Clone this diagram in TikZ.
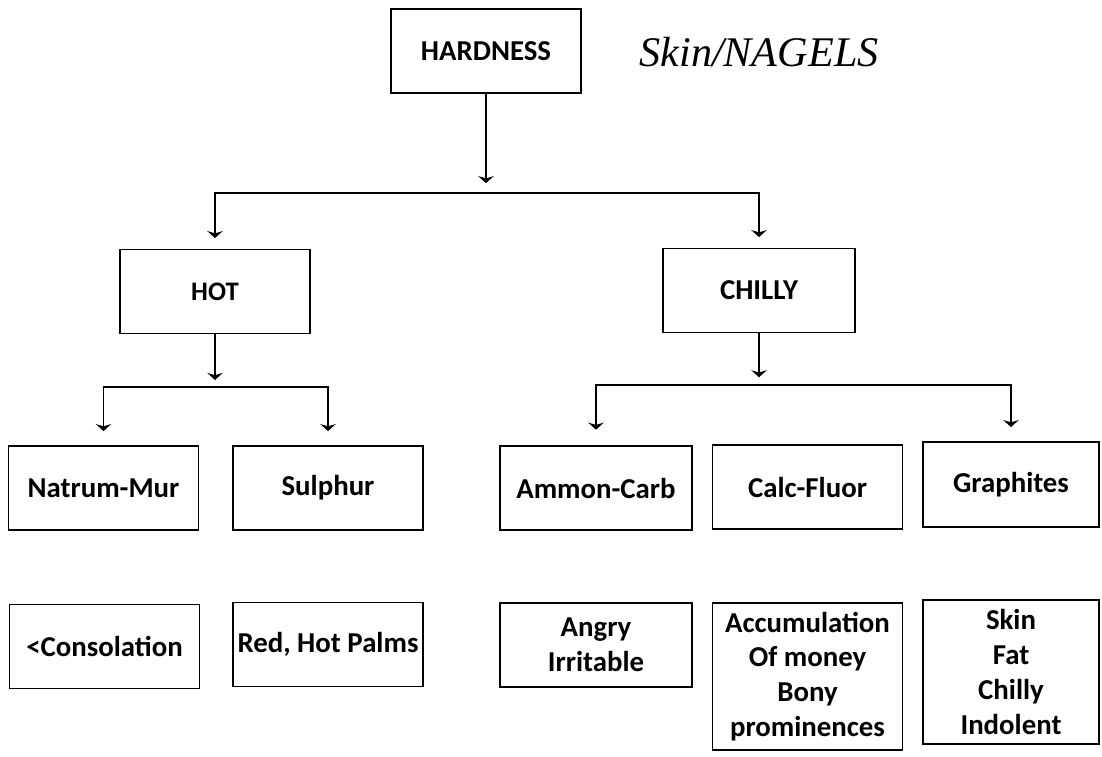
\documentclass[tikz,border=0pt]{standalone}
\usepackage{fontspec}
\setmainfont{Carlito}
\newfontfamily\handfont{Liberation Serif}
\usetikzlibrary{arrows.meta}

\begin{document}
\begin{tikzpicture}[
  x=0.025cm, y=-0.025cm,
  box/.style={draw, line width=1.2pt, minimum width=4.75cm, minimum height=2.1cm,
    inner sep=0pt, align=center, font=\fontsize{20.5}{24.8}\selectfont\bfseries},
  link/.style={line width=1.2pt, -{Stealth[length=5pt, width=11pt]}},
]
\useasboundingbox (0,0) rectangle (1102,756);

\node[box] (hard) at (486,51) {HARDNESS};
\node[font=\handfont\itshape\fontsize{30}{32}\selectfont] (note) at (759,52) {Skin/NAGELS};

\node[box, font=\fontsize{19}{22}\selectfont\bfseries] (hot) at (215,291.5) {HOT};
\node[box, minimum width=4.8cm] (chilly) at (759,290.5) {CHILLY};

\node[box] (natrum)  at (103.5,488) {Natrum-Mur};
\node[box] (sulphur) at (328,488)   {Sulphur};
\node[box, minimum width=4.8cm] (ammon) at (596,488) {Ammon-Carb};
\node[box] (calc)    at (807.5,487) {Calc-Fluor};
\node[box, minimum width=4.4cm, minimum height=2.125cm] (graph) at (1011,484.5) {Graphites};

\node[box] (consol)  at (104.5,646.5) {<Consolation};
\node[box] (palms)   at (328,644.5)   {Red, Hot Palms};
\node[box, minimum width=4.8cm] (angry) at (596,645) {Angry\\Irritable};
\node[box, minimum height=3.675cm] (accum) at (807.5,676.5) {Accumulation\\Of money\\Bony\\prominences};
\node[box, minimum width=4.4cm, minimum height=3.6cm] (skin) at (1011,672) {Skin\\Fat\\Chilly\\Indolent};

% branches
\coordinate (topjoin) at (486,193);
\coordinate (hotjoin) at (215,387);
\coordinate (chillyjoin) at (759,385);

\draw[link, shorten >=7pt] (hard) -- (topjoin);
\draw[link, shorten >=7.5pt] (topjoin) -| (hot);
\draw[link, shorten >=7.5pt] (topjoin) -| (chilly);

\draw[link, shorten >=5pt] (hot) -- (hotjoin);
\draw[link, shorten >=10pt] (hotjoin) -| (natrum);
\draw[link, shorten >=10pt] (hotjoin) -| (sulphur);

\draw[link, shorten >=5.5pt] (chilly) -- (chillyjoin);
\draw[link, shorten >=11pt] (chillyjoin) -| (ammon);
\draw[link, shorten >=10pt] (chillyjoin) -| (graph);
\end{tikzpicture}
\end{document}
